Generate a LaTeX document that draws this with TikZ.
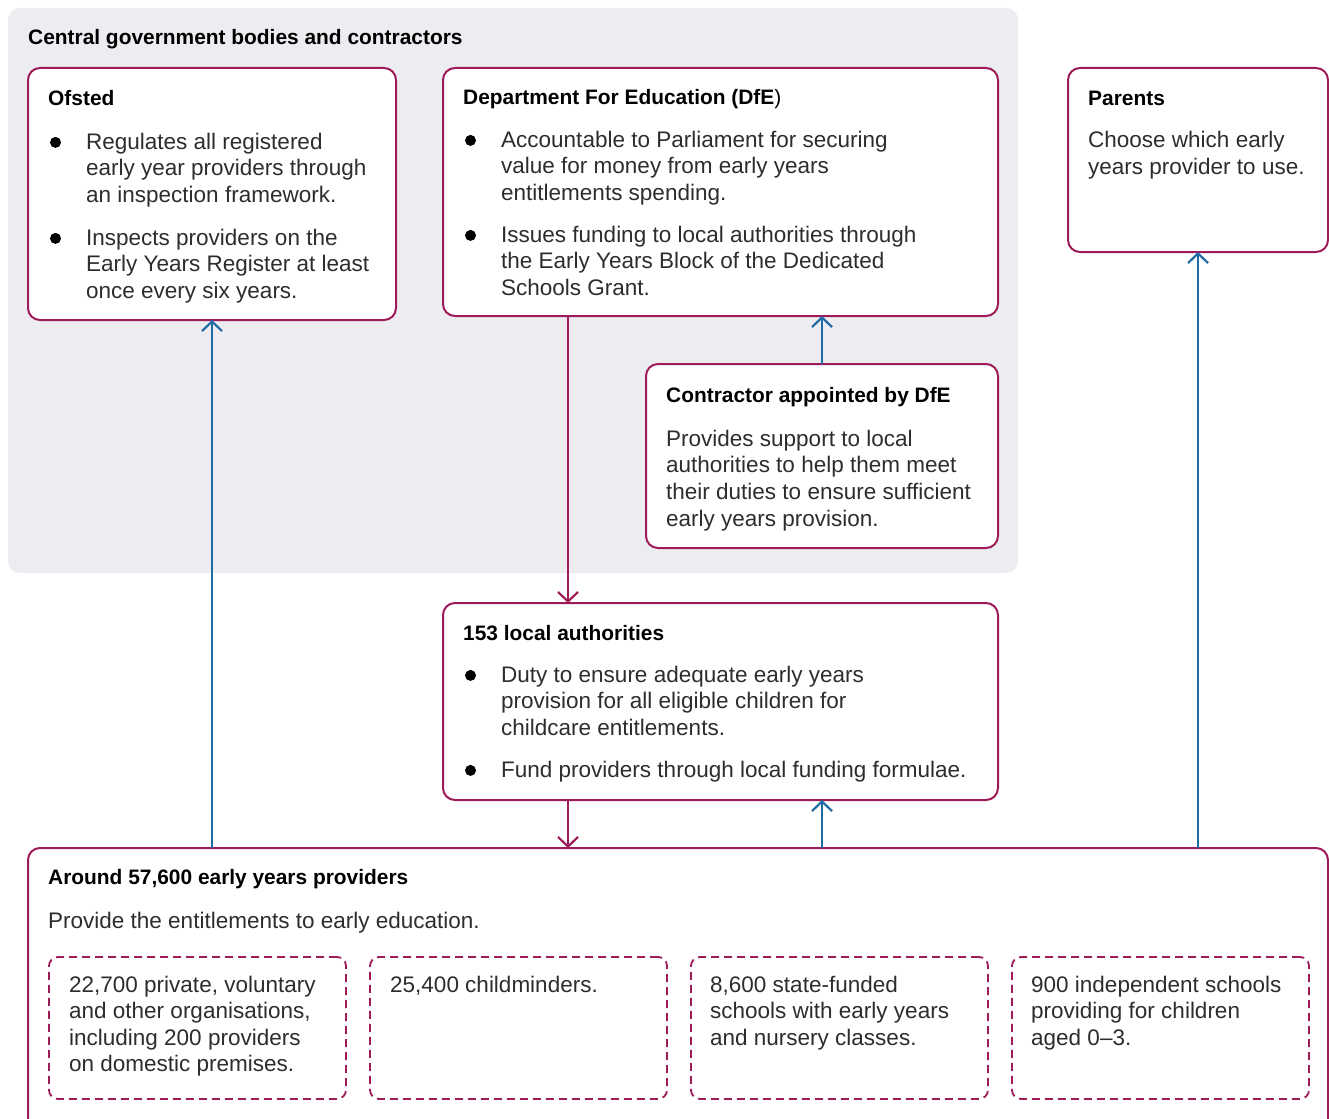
\documentclass[tikz,border=0pt]{standalone}
\usepackage{fontspec}
\setmainfont{Liberation Sans}
\usetikzlibrary{arrows.meta}
\definecolor{nao}{RGB}{158,27,90}
\definecolor{naoblue}{RGB}{31,107,165}
\definecolor{panelgray}{RGB}{237,237,241}
\definecolor{bodytext}{RGB}{45,45,45}
\begin{document}
\begin{tikzpicture}[x=1pt,y=-1pt,
  panelbox/.style={fill=panelgray, rounded corners=12pt, inner sep=0pt, outer sep=0pt, anchor=north west},
  box/.style={draw=nao, line width=2pt, rounded corners=12pt, fill=white, inner sep=0pt, outer sep=0pt, anchor=north west},
  dbox/.style={draw=nao, line width=1.8pt, dash pattern=on 8pt off 5pt, rounded corners=9pt, inner sep=0pt, outer sep=0pt, anchor=north west, minimum width=297pt, minimum height=142pt},
  hd/.style={font=\fontsize{20.9}{25}\selectfont\bfseries, text=black, anchor=base west, inner sep=0pt},
  txt/.style={font=\fontsize{22.5}{26.6}\selectfont, text=bodytext, anchor=base west, inner sep=0pt, align=left},
  bul/.style={fill=black},
  barr/.style={draw=naoblue, line width=2.2pt, -{Straight Barb[length=9.5pt,width=20pt,line width=2.2pt]}},
  marr/.style={draw=nao, line width=2.2pt, -{Straight Barb[length=9.5pt,width=20pt,line width=2.2pt]}}
]
\useasboundingbox (0,0) rectangle (1329,1118);
% panel
\node[panelbox, minimum width=1010pt, minimum height=565pt] (panel) at (8,8) {};
% boxes
\node[box, minimum width=368pt, minimum height=252pt] (ofsted) at (28,68) {};
\node[box, minimum width=555pt, minimum height=248pt] (dfe) at (443,68) {};
\node[box, minimum width=260pt, minimum height=184pt] (parents) at (1068,68) {};
\node[box, minimum width=352pt, minimum height=184pt] (contr) at (646,364) {};
\node[box, minimum width=555pt, minimum height=197pt] (la) at (443,603) {};
\node[box, minimum width=1300pt, minimum height=292pt] (prov) at (28,848) {};
\node[dbox] (d1) at (49,957) {};
\node[dbox] (d2) at (370,957) {};
\node[dbox] (d3) at (691,957) {};
\node[dbox] (d4) at (1012,957) {};
% texts (anchor = baseline of the last line)
\node[hd] (title) at (28,45) {Central government bodies and contractors};
\node[hd] (ofstedh) at (48,106) {Ofsted};
\node[txt] (ofstedb1) at (86,202.2) {Regulates all registered\\early year providers through\\an inspection framework.};
\node[txt] (ofstedb2) at (86,298.2) {Inspects providers on the\\Early Years Register at least\\once every six years.};
\node[hd] (dfeh) at (463,105) {Department For Education (DfE{\mdseries)}};
\node[txt] (dfeb1) at (501,200.2) {Accountable to Parliament for securing\\value for money from early years\\entitlements spending.};
\node[txt] (dfeb2) at (501,295.2) {Issues funding to local authorities through\\the Early Years Block of the Dedicated\\Schools Grant.};
\node[hd] (parentsh) at (1088,106) {Parents};
\node[txt] (parentst) at (1088,174.6) {Choose which early\\years provider to use.};
\node[hd] (contrh) at (666,402) {Contractor appointed by DfE};
\node[txt] (contrt) at (666,526) {Provides support to local\\authorities to help them meet\\their duties to ensure sufficient\\early years provision.};
\node[hd] (lah) at (463,640) {153 local authorities};
\node[txt] (lab1) at (501,735.2) {Duty to ensure adequate early years\\provision for all eligible children for\\childcare entitlements.};
\node[txt] (lab2) at (501,777) {Fund providers through local funding formulae.};
\node[hd] (provh) at (48,884) {Around 57,600 early years providers};
\node[txt] (provt) at (48,928) {Provide the entitlements to early education.};
\node[txt] (d1t) at (69,1071.8) {22,700 private, voluntary\\and other organisations,\\including 200 providers\\on domestic premises.};
\node[txt] (d2t) at (390,992) {25,400 childminders.};
\node[txt] (d3t) at (710,1045.2) {8,600 state-funded\\schools with early years\\and nursery classes.};
\node[txt] (d4t) at (1031,1045.2) {900 independent schools\\providing for children\\aged 0–3.};
% bullets
\fill[bul] (55.5,142.4) circle (5.5pt);
\fill[bul] (55.5,238.4) circle (5.5pt);
\fill[bul] (470.5,140.4) circle (5.5pt);
\fill[bul] (470.5,235.4) circle (5.5pt);
\fill[bul] (470.5,675.4) circle (5.5pt);
\fill[bul] (470.5,770.4) circle (5.5pt);
% connectors
\coordinate (lax) at (568,0);
\draw[barr] (prov.north -| ofsted.south) -- (ofsted.south);
\draw[barr] (prov.north -| parents.south) -- (parents.south);
\draw[barr] (contr.north) -- (contr.north |- dfe.south);
\draw[barr] (prov.north -| contr.north) -- (contr.north |- la.south);
\draw[marr] (lax |- dfe.south) -- (lax |- la.north);
\draw[marr] (lax |- la.south) -- (lax |- prov.north);
\end{tikzpicture}
\end{document}
